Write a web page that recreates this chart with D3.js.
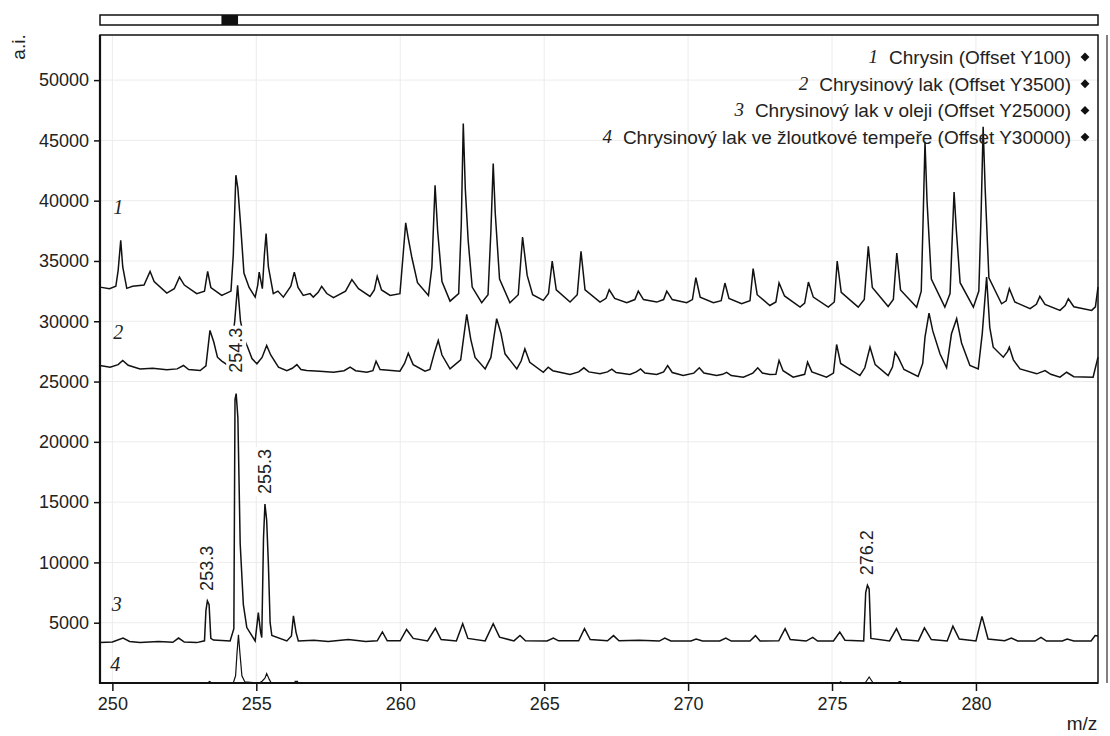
<!DOCTYPE html>
<html>
<head>
  <meta charset="utf-8">
  <title>Chrysin MALDI spectra</title>
  <script src="https://d3js.org/d3.v7.min.js"></script>
  <style>
    body { margin: 0; background: #fff; }
    text { font-family: "Liberation Sans", Arial, sans-serif; fill: #222; }
    .num { font-family: "Liberation Serif", "Times New Roman", serif; font-style: italic; }
  </style>
</head>
<body>
  <div id="chart"></div>

  <script>
    // spectra as [m/z, intensity] as drawn (offsets already applied)
    const chrysin = [
      [249.57, 32830], [249.9, 32700], [250.12, 32900], [250.2, 34200], [250.29, 36710], [250.36, 34500],
      [250.5, 32730], [250.7, 32900], [251.1, 33000], [251.31, 34140], [251.45, 33300], [251.89, 32340],
      [252.15, 32700], [252.33, 33660], [252.5, 33000], [252.93, 32290], [253.2, 32500], [253.31, 34140],
      [253.42, 32800], [253.8, 32140], [254.12, 32500], [254.2, 35500], [254.29, 42110], [254.36, 41000],
      [254.45, 38140], [254.57, 34000], [254.75, 32800], [254.96, 32000], [255.05, 33000], [255.1, 34080],
      [255.21, 32700], [255.28, 35500], [255.34, 37270], [255.42, 34500], [255.59, 32290], [255.75, 32500],
      [255.94, 32000], [256.2, 32900], [256.32, 34080], [256.45, 32800], [256.63, 32140], [256.87, 32290],
      [256.98, 32000], [257.15, 32400], [257.27, 32890], [257.45, 32300], [257.68, 31950], [258.1, 32500],
      [258.32, 33450], [258.55, 32700], [258.95, 32060], [259.1, 32600], [259.2, 33720], [259.35, 32600],
      [259.65, 32140], [259.99, 32290], [260.1, 35500], [260.19, 38160], [260.27, 37000], [260.4, 35330],
      [260.6, 33200], [260.98, 32140], [261.1, 34500], [261.21, 41280], [261.3, 37500], [261.45, 33300],
      [261.73, 31670], [262.03, 32300], [262.12, 38000], [262.19, 46400], [262.26, 41000], [262.36, 36700],
      [262.5, 32830], [262.83, 31540], [263.05, 32200], [263.15, 37500], [263.23, 43080], [263.3, 39000],
      [263.45, 33500], [263.81, 31540], [264.1, 32200], [264.25, 36990], [264.41, 33800], [264.6, 32200],
      [264.97, 31730], [265.15, 32300], [265.28, 34990], [265.42, 32600], [265.9, 31590], [266.15, 32200],
      [266.28, 35800], [266.42, 32600], [266.94, 31590], [267.15, 31900], [267.26, 32610], [267.45, 31900],
      [267.87, 31540], [268.15, 31800], [268.27, 32500], [268.45, 31800], [268.91, 31590], [269.15, 31800],
      [269.26, 32500], [269.45, 31800], [269.95, 31540], [270.15, 31800], [270.27, 33610], [270.42, 32000],
      [270.88, 31540], [271.15, 31700], [271.28, 33170], [271.42, 31900], [271.86, 31450], [272.15, 31700],
      [272.26, 34360], [272.4, 32200], [272.84, 31310], [273.05, 31600], [273.16, 33170], [273.35, 32100],
      [273.89, 31170], [274.05, 31500], [274.18, 33250], [274.35, 32000], [274.87, 31170], [275.08, 31600],
      [275.18, 34990], [275.32, 32400], [275.91, 31170], [276.12, 31800], [276.26, 36210], [276.4, 32800],
      [276.95, 31230], [277.13, 31800], [277.25, 35660], [277.38, 32600], [277.94, 31170], [278.1, 32500],
      [278.16, 38000], [278.23, 44880], [278.3, 40000], [278.45, 33500], [278.92, 31170], [279.1, 32300],
      [279.24, 40720], [279.32, 37500], [279.45, 33200], [279.91, 31170], [280.1, 32500], [280.18, 39000],
      [280.25, 46120], [280.32, 41000], [280.45, 33600], [280.89, 31450], [281.05, 31700], [281.16, 32700],
      [281.35, 31600], [281.88, 31040], [282.1, 31400], [282.22, 32060], [282.4, 31400], [282.92, 30900],
      [283.1, 31300], [283.21, 31870], [283.4, 31200], [284.02, 30900], [284.15, 31200], [284.24, 32830]
    ];

    const lak = [
      [249.57, 26330], [249.92, 26190], [250.2, 26400], [250.36, 26750], [250.55, 26350], [250.96, 26050],
      [251.4, 26100], [251.89, 25970], [252.25, 26050], [252.47, 26330], [252.65, 26000], [253.05, 25910],
      [253.25, 26300], [253.39, 29240], [253.52, 28300], [253.65, 27020], [253.8, 26700], [254.05, 26300],
      [254.25, 30000], [254.35, 32980], [254.45, 30000], [254.6, 28400], [254.7, 27850], [254.85, 26900],
      [255.02, 26470], [255.2, 27000], [255.36, 27990], [255.5, 27200], [255.77, 26190], [256.06, 25910],
      [256.25, 26100], [256.41, 26410], [256.55, 26000], [256.75, 25910], [257.2, 25850], [257.68, 25770],
      [258.05, 25900], [258.26, 26190], [258.45, 25900], [258.84, 25770], [259.05, 25900], [259.16, 26690],
      [259.3, 26000], [259.99, 25860], [260.15, 26500], [260.28, 27350], [260.45, 26400], [260.86, 25860],
      [261.03, 26000], [261.2, 27500], [261.32, 28410], [261.45, 27200], [261.73, 26050], [262.1, 26800],
      [262.31, 30570], [262.45, 28500], [262.6, 27000], [262.95, 26050], [263.15, 27000], [263.35, 30210],
      [263.5, 29000], [263.64, 27300], [264.05, 26050], [264.2, 26700], [264.33, 27720], [264.5, 26600],
      [264.97, 25770], [265.14, 26190], [265.3, 25900], [265.9, 25580], [266.2, 25800], [266.38, 26140],
      [266.55, 25800], [266.94, 25640], [267.2, 25800], [267.35, 26030], [267.5, 25750], [267.98, 25580],
      [268.2, 25800], [268.35, 26050], [268.5, 25700], [268.91, 25580], [269.15, 25800], [269.29, 26330],
      [269.45, 25750], [269.83, 25500], [270.2, 25700], [270.39, 26140], [270.55, 25700], [270.99, 25500],
      [271.2, 25600], [271.34, 25770], [271.5, 25500], [271.92, 25360], [272.25, 25700], [272.42, 26140],
      [272.58, 25700], [272.84, 25580], [273.05, 25600], [273.16, 26750], [273.3, 25900], [273.65, 25360],
      [274.05, 25600], [274.15, 26610], [274.3, 25800], [274.81, 25360], [275.05, 25700], [275.16, 28070],
      [275.3, 26500], [275.97, 25500], [276.14, 26140], [276.32, 27850], [276.5, 26400], [276.95, 25500],
      [277.1, 26200], [277.19, 27430], [277.3, 27000], [277.5, 26000], [277.99, 25420], [278.15, 26500],
      [278.23, 28680], [278.37, 30680], [278.5, 29200], [278.75, 27300], [278.98, 26140], [279.15, 28960],
      [279.33, 30210], [279.5, 28200], [279.79, 26330], [280.08, 26050], [280.22, 29000], [280.37, 33660],
      [280.48, 29500], [280.6, 27850], [280.95, 27020], [281.1, 27500], [281.16, 27850], [281.3, 26800],
      [281.53, 26050], [282.11, 25640], [282.4, 25910], [282.6, 25600], [282.92, 25360], [283.15, 25770],
      [283.4, 25400], [284.07, 25360], [284.24, 27020]
    ];

    const lakOlej = [
      [249.57, 3350], [250.0, 3400], [250.37, 3730], [250.6, 3450], [250.96, 3350], [251.6, 3450],
      [252.1, 3380], [252.3, 3730], [252.5, 3400], [252.93, 3350], [253.2, 3500], [253.25, 6000],
      [253.3, 6810], [253.36, 6500], [253.42, 3700], [253.51, 3560], [254.09, 3490], [254.22, 4500],
      [254.26, 23500], [254.3, 24000], [254.36, 22000], [254.44, 11550], [254.55, 6500], [254.67, 4600],
      [254.96, 3490], [255.07, 5840], [255.15, 4200], [255.19, 3770], [255.25, 12000], [255.3, 14840],
      [255.36, 13500], [255.42, 9860], [255.48, 5000], [255.54, 3940], [256.06, 3490], [256.22, 3900],
      [256.29, 5570], [256.38, 4200], [256.46, 3490], [257.0, 3550], [257.5, 3450], [258.2, 3600],
      [258.8, 3450], [259.2, 3500], [259.38, 4230], [259.55, 3500], [260.0, 3500], [260.22, 4440],
      [260.45, 3700], [260.95, 3490], [261.22, 4530], [261.42, 3600], [261.95, 3490], [262.17, 4920],
      [262.35, 3700], [262.95, 3490], [263.23, 4920], [263.45, 3800], [263.95, 3490], [264.16, 3940],
      [264.35, 3500], [265.1, 3490], [265.32, 3730], [265.5, 3500], [266.2, 3500], [266.4, 4510],
      [266.6, 3600], [267.2, 3500], [267.41, 3930], [267.6, 3500], [268.3, 3550], [269.0, 3480],
      [269.19, 3720], [269.4, 3480], [270.1, 3480], [270.28, 3640], [270.5, 3480], [271.1, 3480],
      [271.31, 3720], [271.5, 3480], [272.15, 3480], [272.34, 3930], [272.5, 3480], [273.15, 3500],
      [273.37, 4510], [273.55, 3600], [274.1, 3480], [274.33, 3780], [274.5, 3480], [275.05, 3480],
      [275.27, 4220], [275.45, 3550], [276.1, 3490], [276.17, 7500], [276.23, 8100], [276.29, 7800],
      [276.35, 3700], [277.0, 3490], [277.24, 4510], [277.42, 3600], [278.0, 3490], [278.21, 4570],
      [278.45, 3600], [279.0, 3490], [279.2, 4710], [279.42, 3650], [280.0, 3490], [280.21, 5530],
      [280.42, 3650], [281.0, 3500], [281.23, 3720], [281.45, 3480], [282.05, 3480], [282.26, 3780],
      [282.45, 3480], [283.0, 3480], [283.17, 3640], [283.4, 3480], [284.0, 3480], [284.14, 3930],
      [284.24, 3900]
    ];

    const lakTempera = [
      [249.57, 0], [253.3, 0], [253.38, 120], [253.45, 0], [254.2, 0], [254.28, 600], [254.33, 2500],
      [254.38, 4000], [254.43, 2500], [254.5, 600], [254.6, 100], [255.1, 0], [255.2, 150], [255.3, 400],
      [255.36, 780], [255.45, 300], [255.52, 0], [256.33, 0], [256.35, 130], [256.43, 130], [256.45, 0],
      [275.25, 0], [275.3, 100], [275.35, 0], [276.15, 0], [276.22, 250], [276.29, 500], [276.36, 250],
      [276.43, 0], [277.3, 0], [277.33, 120], [277.38, 120], [277.41, 0], [284.24, 0]
    ];

    const series = [chrysin, lak, lakOlej, lakTempera];
    const seriesNums = ["1", "2", "3", "4"];
    const seriesNames = [
      "Chrysin (Offset Y100)",
      "Chrysinový lak (Offset Y3500)",
      "Chrysinový lak v oleji (Offset Y25000)",
      "Chrysinový lak ve žloutkové tempeře (Offset Y30000)"
    ];
    // where the italic trace numbers sit [m/z, intensity]
    const numPos = [[250.2, 39450], [250.2, 29070], [250.15, 6560], [250.1, 1580]];

    // annotated peaks of trace 3: [text, m/z, intensity of label anchor]
    const peakLabels = [["253.3", 253.3, 6810], ["254.3", 254.3, 24900], ["255.3", 255.3, 14840], ["276.2", 276.23, 8100]];

    const xTicks = [250, 255, 260, 265, 270, 275, 280];
    const yTicks = [5000, 10000, 15000, 20000, 25000, 30000, 35000, 40000, 45000, 50000];
    const xDomain = [249.57, 284.24];
    const yDomain = [0, 53740];
    const fullRange = [-4, 2080];   // overview bar

    const W = 1110, H = 736;
    const margin = { top: 35, right: 12, bottom: 53, left: 100 };
    const width = W - margin.left - margin.right;
    const height = H - margin.top - margin.bottom;

    const svg = d3.select("#chart").append("svg")
      .attr("width", W)
      .attr("height", H);

    const x = d3.scaleLinear().domain(xDomain).range([margin.left, margin.left + width]);
    const y = d3.scaleLinear().domain(yDomain).range([margin.top + height, margin.top]);

    // overview bar on top
    const ov = d3.scaleLinear().domain(fullRange).range([margin.left, margin.left + width]);
    svg.append("rect")
      .attr("x", ov(fullRange[0])).attr("y", 15)
      .attr("width", ov(fullRange[1]) - ov(fullRange[0])).attr("height", 10)
      .attr("fill", "#fff").attr("stroke", "#111").attr("stroke-width", 1.5);
    svg.append("rect")
      .attr("x", ov(xDomain[0])).attr("y", 15)
      .attr("width", ov(xDomain[1]) - ov(xDomain[0])).attr("height", 10)
      .attr("fill", "#111");

    // grid
    svg.append("g").selectAll("line").data(xTicks).join("line")
      .attr("x1", d => x(d)).attr("x2", d => x(d))
      .attr("y1", margin.top).attr("y2", margin.top + height)
      .attr("stroke", "#ececec");
    svg.append("g").selectAll("line").data(yTicks).join("line")
      .attr("x1", margin.left).attr("x2", margin.left + width)
      .attr("y1", d => y(d)).attr("y2", d => y(d))
      .attr("stroke", "#ececec");

    // right side scroll line
    svg.append("line")
      .attr("x1", 1107).attr("x2", 1107)
      .attr("y1", margin.top).attr("y2", margin.top + height)
      .attr("stroke", "#555").attr("stroke-width", 1.5);

    // traces
    const line = d3.line().x(d => x(d[0])).y(d => y(d[1]));
    svg.append("g").selectAll("path").data(series).join("path")
      .attr("d", line)
      .attr("fill", "none")
      .attr("stroke", "#111")
      .attr("stroke-width", (d, i) => i === 3 ? 1.2 : 1.5)
      .attr("stroke-linejoin", "miter");

    // trace numbers
    svg.append("g").selectAll("text").data(numPos).join("text")
      .attr("class", "num")
      .attr("x", d => x(d[0]))
      .attr("y", d => y(d[1]) + 7)
      .attr("text-anchor", "middle")
      .style("font-size", "20px")
      .text((d, i) => seriesNums[i]);

    // peak labels with white box
    const pl = svg.append("g").selectAll("g").data(peakLabels).join("g")
      .attr("transform", d => "translate(" + x(d[1]) + "," + (y(d[2]) - 10) + ") rotate(-90)");
    pl.append("text")
      .attr("x", 0).attr("y", 6)
      .style("font-size", "18px")
      .text(d => d[0])
      .each(function() {
        const b = this.getBBox();
        d3.select(this.parentNode).insert("rect", "text")
          .attr("x", b.x - 2).attr("y", b.y)
          .attr("width", b.width + 4).attr("height", b.height)
          .attr("fill", "#fff");
      });

    // axes
    const gx = svg.append("g")
      .attr("transform", "translate(0," + (margin.top + height) + ")")
      .call(d3.axisBottom(x).tickValues(xTicks).tickSize(8).tickPadding(6).tickFormat(d3.format("d")));
    const gy = svg.append("g")
      .attr("transform", "translate(" + margin.left + ",0)")
      .call(d3.axisLeft(y).tickValues(yTicks).tickSize(6).tickPadding(5).tickFormat(d3.format("d")));
    [gx, gy].forEach(g => {
      g.select(".domain").remove();
      g.selectAll(".tick line").attr("stroke", "#111").attr("stroke-width", 1.5);
      g.selectAll(".tick text").style("font-size", "18px").attr("fill", "#222")
        .style("font-family", "'Liberation Sans', Arial, sans-serif");
    });

    // frame
    svg.append("rect")
      .attr("x", margin.left).attr("y", margin.top)
      .attr("width", width).attr("height", height)
      .attr("fill", "none").attr("stroke", "#111").attr("stroke-width", 1.5);
    svg.append("path")
      .attr("d", "M" + margin.left + "," + margin.top + "V" + (margin.top + height) + "H" + (margin.left + width))
      .attr("fill", "none").attr("stroke", "#111").attr("stroke-width", 2.2);

    // legend
    const lg = svg.append("g").selectAll("g").data(seriesNames).join("g")
      .attr("transform", (d, i) => "translate(1071," + (57 + i * 26.7) + ")");
    lg.append("text")
      .attr("y", 7)
      .attr("text-anchor", "end")
      .style("font-size", "19px")
      .text(d => d)
      .each(function(d, i) {
        const w = this.getComputedTextLength();
        d3.select(this.parentNode).append("text")
          .attr("class", "num")
          .attr("x", -w - 11).attr("y", 6)
          .attr("text-anchor", "end")
          .style("font-size", "19px")
          .text(seriesNums[i]);
      });
    lg.append("path")
      .attr("d", d3.symbol(d3.symbolDiamond2, 50))
      .attr("transform", "translate(14,0)")
      .attr("fill", "#111");

    // axis titles
    svg.append("text")
      .attr("transform", "translate(25,47) rotate(-90)")
      .attr("text-anchor", "middle")
      .style("font-size", "19px")
      .text("a.i.");
    svg.append("text")
      .attr("x", 1082).attr("y", 730)
      .attr("text-anchor", "middle")
      .style("font-size", "19px")
      .text("m/z");
  </script>
</body>
</html>
